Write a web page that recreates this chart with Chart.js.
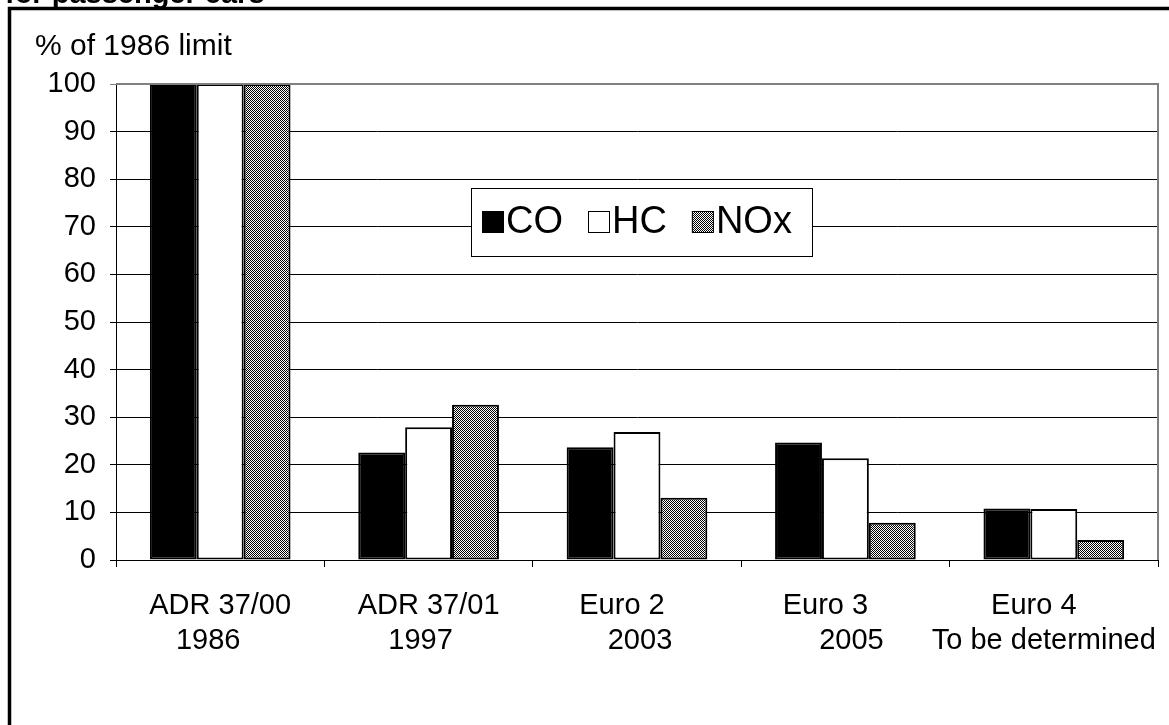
<!DOCTYPE html>
<html>
<head>
<meta charset="utf-8">
<script src="https://cdn.jsdelivr.net/npm/chart.js@4.4.1/dist/chart.umd.min.js"></script>
<style>
  html, body { margin: 0; padding: 0; background: #fff; }
  #wrap { width: 1169px; height: 725px; position: relative; }
</style>
</head>
<body>
<div id="wrap"><canvas id="chart" width="1169" height="725"></canvas></div>
<script>
// Emission standard stages and the year each applies from
const stageNames = ['ADR 37/00', 'ADR 37/01', 'Euro 2', 'Euro 3', 'Euro 4'];
const stageYears = ['1986', '1997', '2003', '2005', 'To be determined'];

// Limits as a percentage of the 1986 limit
const coValues  = [100, 22.6, 23.7, 24.7, 10.8];
const hcValues  = [100, 27.9, 26.9, 21.4, 10.7];
const noxValues = [100, 32.6, 13.1, 7.8, 4.2];

const yTicks = [0, 10, 20, 30, 40, 50, 60, 70, 80, 90, 100];

const FONT = '"Liberation Sans", Arial, sans-serif';

// Fine dotted fill used for the NOx bars
function dotPattern() {
  const c = document.createElement('canvas');
  c.width = 2; c.height = 2;
  const g = c.getContext('2d');
  g.fillStyle = '#ffffff';
  g.fillRect(0, 0, 2, 2);
  g.fillStyle = '#000000';
  g.fillRect(0, 0, 1, 1);
  g.fillRect(1, 1, 1, 1);
  return g.createPattern(c, 'repeat');
}

const ctx0 = document.getElementById('chart').getContext('2d');
const noxFill = dotPattern();

// Two-line category labels; each line is nudged a little from the category centre
const nameShift = [0, 0, -15, -20, -20];
const yearShift = [-12, -8, 3, 6, -10];
const categoryLabels = {
  id: 'categoryLabels',
  afterDraw(chart) {
    const ctx = chart.ctx;
    const xs = chart.scales.x;
    ctx.save();
    ctx.fillStyle = '#000';
    ctx.font = '29px ' + FONT;
    ctx.textAlign = 'center';
    ctx.textBaseline = 'middle';
    chart.data.labels.forEach((lines, i) => {
      const cx = xs.getPixelForValue(i);
      ctx.fillText(lines[0], cx + nameShift[i], 606);
      ctx.fillText(lines[1], cx + yearShift[i], 641);
    });
    ctx.restore();
  }
};

// Frame, heading, axis caption, plot border and legend box
const decorations = {
  id: 'decorations',
  afterDraw(chart) {
    const ctx = chart.ctx;
    const a = chart.chartArea;
    ctx.save();
    // plot border (top and right), grey
    ctx.strokeStyle = '#808080';
    ctx.lineWidth = 2;
    ctx.beginPath();
    ctx.moveTo(a.left, a.top);
    ctx.lineTo(a.right, a.top);
    ctx.lineTo(a.right, a.bottom);
    ctx.stroke();

    // outer frame
    ctx.strokeStyle = '#000';
    ctx.lineWidth = 3.5;
    ctx.strokeRect(9.5, 8.5, 1300, 900);

    // heading (mostly above the visible area)
    ctx.fillStyle = '#000';
    ctx.font = 'bold 29px ' + FONT;
    ctx.textBaseline = 'alphabetic';
    ctx.textAlign = 'left';
    ctx.fillText('for passenger cars', 5, 3);

    // y axis caption
    ctx.font = '30px ' + FONT;
    ctx.textBaseline = 'middle';
    ctx.fillText('% of 1986 limit', 35, 47);

    // legend
    const bx = 471, by = 188, bw = 341, bh = 68;
    ctx.fillStyle = '#fff';
    ctx.fillRect(bx, by, bw, bh);
    ctx.strokeStyle = '#000';
    ctx.lineWidth = 1;
    ctx.strokeRect(bx + 0.5, by + 0.5, bw, bh);
    ctx.font = '38px ' + FONT;
    ctx.textBaseline = 'middle';
    let x = bx + 11;
    const cy = by + bh / 2;
    chart.data.datasets.forEach(ds => {
      const s = 22;
      ctx.fillStyle = ds.backgroundColor;
      ctx.fillRect(x, cy - s / 2, s, s);
      ctx.lineWidth = 1;
      ctx.strokeStyle = '#000';
      ctx.strokeRect(x + 0.5, cy - s / 2 + 0.5, s - 1, s - 1);
      x += s + 2;
      ctx.fillStyle = '#000';
      ctx.fillText(ds.label, x, cy + 1);
      x += ctx.measureText(ds.label).width + 25;
    });
    ctx.restore();
  }
};

new Chart(ctx0, {
  type: 'bar',
  data: {
    labels: stageNames.map((n, i) => [n, stageYears[i]]),
    datasets: [
      { label: 'CO',  data: coValues,  backgroundColor: '#000000', borderColor: '#000', borderWidth: 2 },
      { label: 'HC',  data: hcValues,  backgroundColor: '#ffffff', borderColor: '#000', borderWidth: 2 },
      { label: 'NOx', data: noxValues, backgroundColor: noxFill,   borderColor: '#000', borderWidth: 2 }
    ]
  },
  options: {
    responsive: false,
    animation: false,
    devicePixelRatio: 1,
    layout: { padding: { left: 0, top: 84, right: 11, bottom: 0 } },
    datasets: {
      bar: { categoryPercentage: 0.675, barPercentage: 1, borderSkipped: false }
    },
    plugins: {
      legend: { display: false },
      tooltip: { enabled: false },
      title: { display: false }
    },
    scales: {
      x: {
        afterFit(scale) { scale.height = 165; },
        grid: {
          display: true,
          drawOnChartArea: false,
          drawTicks: true,
          tickLength: 7,
          color: '#000',
          offset: true
        },
        border: { display: true, color: '#000', width: 1 },
        ticks: { display: false, autoSkip: false }
      },
      y: {
        min: 0,
        max: 100,
        afterFit(scale) { scale.width = 116; },
        afterBuildTicks(scale) { scale.ticks = yTicks.map(v => ({ value: v })); },
        grid: {
          color: ctx => (ctx.tick && ctx.tick.value === 100 ? '#808080' : '#000'),
          lineWidth: 1,
          tickLength: 6,
          drawTicks: true
        },
        border: { display: true, color: '#000', width: 1 },
        ticks: {
          color: '#000',
          font: { family: FONT, size: 29 },
          padding: 14
        }
      }
    }
  },
  plugins: [categoryLabels, decorations]
});
</script>
</body>
</html>
